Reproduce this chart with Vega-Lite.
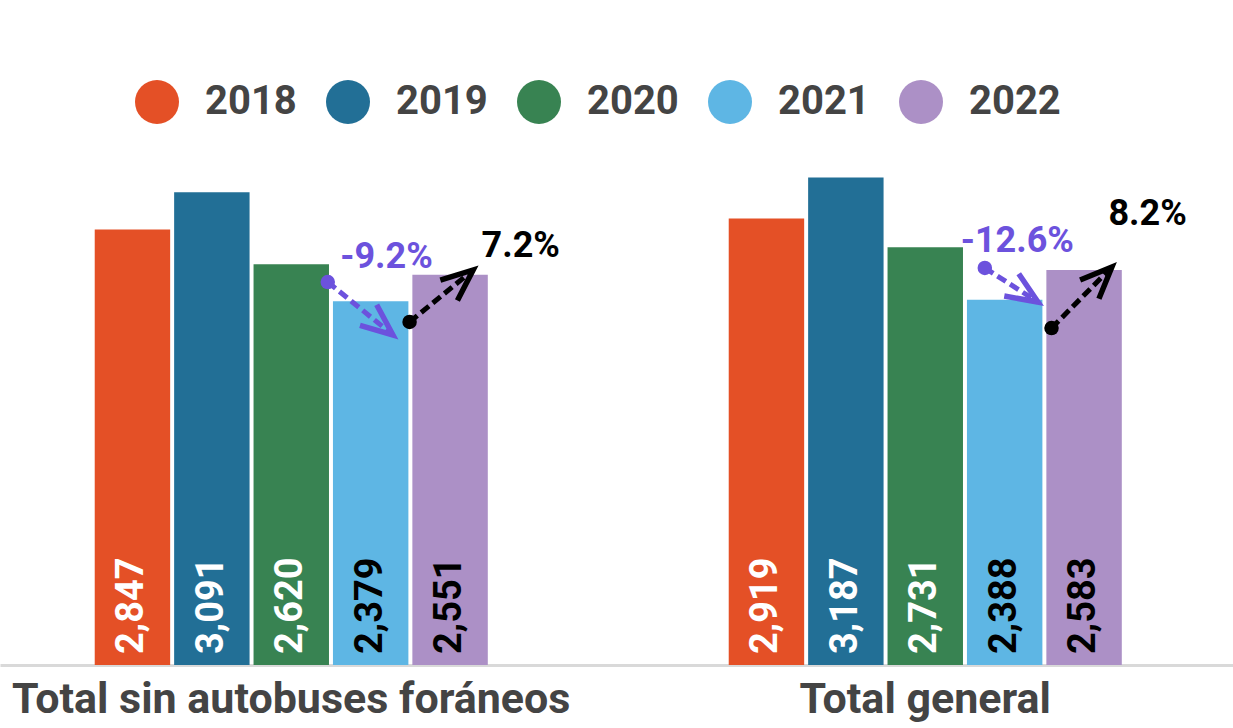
{
  "$schema": "https://vega.github.io/schema/vega-lite/v6.json",
  "width": 1233,
  "height": 520,
  "autosize": "none",
  "padding": {"left": 0, "top": 145, "right": 0, "bottom": 63},
  "background": "white",
  "config": {"view": {"stroke": null}, "font": "Roboto"},
  "datasets": {
    "bars": [
      {"group": "Total sin autobuses foráneos", "year": "2018", "v": 2847},
      {"group": "Total sin autobuses foráneos", "year": "2019", "v": 3091},
      {"group": "Total sin autobuses foráneos", "year": "2020", "v": 2620},
      {"group": "Total sin autobuses foráneos", "year": "2021", "v": 2379},
      {"group": "Total sin autobuses foráneos", "year": "2022", "v": 2551},
      {"group": "Total general", "year": "2018", "v": 2919},
      {"group": "Total general", "year": "2019", "v": 3187},
      {"group": "Total general", "year": "2020", "v": 2731},
      {"group": "Total general", "year": "2021", "v": 2388},
      {"group": "Total general", "year": "2022", "v": 2583}
    ],
    "arrows": [
      {"group": "Total sin autobuses foráneos", "kind": "down", "role": "start", "idx": 2.46, "v": 2504},
      {"group": "Total sin autobuses foráneos", "kind": "down", "role": "end", "idx": 3.28, "v": 2158},
      {"group": "Total sin autobuses foráneos", "kind": "up", "role": "start", "idx": 3.49, "v": 2243},
      {"group": "Total sin autobuses foráneos", "kind": "up", "role": "end", "idx": 4.29, "v": 2583},
      {"group": "Total general", "kind": "down", "role": "start", "idx": 2.75, "v": 2596},
      {"group": "Total general", "kind": "down", "role": "end", "idx": 3.42, "v": 2373},
      {"group": "Total general", "kind": "up", "role": "start", "idx": 3.59, "v": 2203},
      {"group": "Total general", "kind": "up", "role": "end", "idx": 4.35, "v": 2602}
    ],
    "notes": [
      {"group": "Total sin autobuses foráneos", "kind": "down", "idx": 3.2, "v": 2596, "label": "-9.2%"},
      {"group": "Total sin autobuses foráneos", "kind": "up", "idx": 4.89, "v": 2668, "label": "7.2%"},
      {"group": "Total general", "kind": "down", "idx": 3.16, "v": 2700, "label": "-12.6%"},
      {"group": "Total general", "kind": "up", "idx": 4.8, "v": 2877, "label": "8.2%"}
    ]
  },
  "encoding": {
    "x": {
      "field": "group",
      "type": "nominal",
      "sort": null,
      "scale": {
        "domain": ["Total sin autobuses foráneos", "Total general"],
        "paddingInner": 0.38,
        "paddingOuter": 0.1624,
        "align": 0.46
      },
      "axis": {
        "title": null,
        "labelFontSize": 43,
        "labelFontWeight": "bold",
        "labelFont": "Roboto",
        "labelColor": "#444444",
        "labelAngle": 0,
        "labelLimit": 1000,
        "labelPadding": 13,
        "ticks": false,
        "grid": false,
        "domainColor": "#d9d9d9",
        "domainWidth": 3
      }
    }
  },
  "layer": [
    {
      "data": {"name": "bars"},
      "layer": [
        {
          "mark": {"type": "bar"},
          "encoding": {
            "xOffset": {"field": "year", "type": "nominal", "scale": {"paddingInner": 0.05, "paddingOuter": 0}},
            "y": {"field": "v", "type": "quantitative", "stack": null, "scale": {"domain": [0, 3400]}, "axis": null},
            "color": {
              "field": "year",
              "type": "nominal",
              "scale": {
                "domain": ["2018", "2019", "2020", "2021", "2022"],
                "range": ["#e45026", "#226f96", "#388352", "#5eb6e4", "#ac90c6"]
              },
              "legend": {
                "title": null,
                "orient": "none",
                "legendX": 135,
                "legendY": -65,
                "direction": "horizontal",
                "columns": 5,
                "padding": 0,
                "symbolType": "circle",
                "symbolSize": 1936,
                "symbolStrokeWidth": 0,
                "symbolOpacity": 1,
                "labelFont": "Roboto",
                "labelFontSize": 40,
                "labelFontWeight": "bold",
                "labelColor": "#444444",
                "labelOffset": 26,
                "columnPadding": 29
              }
            }
          }
        },
        {
          "mark": {"type": "text", "angle": 270, "align": "left", "baseline": "middle", "dx": 11, "fontSize": 38, "fontWeight": "bold", "font": "Roboto"},
          "encoding": {
            "xOffset": {"field": "year", "type": "nominal", "scale": {"paddingInner": 0.05, "paddingOuter": 0}},
            "y": {"datum": 0, "type": "quantitative", "scale": {"domain": [0, 3400]}, "axis": null},
            "text": {"field": "v", "type": "quantitative", "format": ","},
            "color": {
              "condition": {"test": "datum.year === '2021' || datum.year === '2022'", "value": "#000000"},
              "value": "#ffffff"
            }
          }
        }
      ]
    },
    {
      "data": {"name": "arrows"},
      "layer": [
        {
          "mark": {"type": "line", "strokeWidth": 5, "strokeDash": [10, 5]},
          "encoding": {
            "xOffset": {"field": "idx", "type": "quantitative", "scale": {"domain": [-0.475, 4.475], "nice": false, "zero": false}},
            "y": {"field": "v", "type": "quantitative", "scale": {"domain": [0, 3400]}, "axis": null},
            "detail": [{"field": "group", "type": "nominal"}, {"field": "kind", "type": "nominal"}],
            "order": {"field": "idx", "type": "quantitative"},
            "color": {"condition": {"test": "datum.kind === 'up'", "value": "#000000"}, "value": "#6c52dd"}
          }
        },
        {
          "transform": [{"filter": "datum.role === 'start'"}],
          "mark": {"type": "point", "filled": true, "size": 210, "opacity": 1},
          "encoding": {
            "xOffset": {"field": "idx", "type": "quantitative", "scale": {"domain": [-0.475, 4.475], "nice": false, "zero": false}},
            "y": {"field": "v", "type": "quantitative", "scale": {"domain": [0, 3400]}, "axis": null},
            "color": {"condition": {"test": "datum.kind === 'up'", "value": "#000000"}, "value": "#6c52dd"}
          }
        },
        {
          "transform": [{"filter": "datum.role === 'end'"}],
          "mark": {"type": "point", "shape": "M-1,-0.42L0,0L-1,0.42", "filled": false, "size": 4000, "strokeWidth": 5.5, "strokeJoin": "miter", "opacity": 1},
          "encoding": {
            "xOffset": {"field": "idx", "type": "quantitative", "scale": {"domain": [-0.475, 4.475], "nice": false, "zero": false}},
            "y": {"field": "v", "type": "quantitative", "scale": {"domain": [0, 3400]}, "axis": null},
            "angle": {
              "condition": [
                {"test": "datum.kind === 'down' && datum.group === 'Total general'", "value": 33},
                {"test": "datum.kind === 'up' && datum.group === 'Total general'", "value": -45},
                {"test": "datum.kind === 'up'", "value": -40}
              ],
              "value": 39
            },
            "color": {"condition": {"test": "datum.kind === 'up'", "value": "#000000"}, "value": "#6c52dd"}
          }
        }
      ]
    },
    {
      "data": {"name": "notes"},
      "mark": {"type": "text", "align": "center", "baseline": "alphabetic", "fontSize": 36, "fontWeight": "bold", "font": "Roboto"},
      "encoding": {
        "xOffset": {"field": "idx", "type": "quantitative", "scale": {"domain": [-0.475, 4.475], "nice": false, "zero": false}},
        "y": {"field": "v", "type": "quantitative", "scale": {"domain": [0, 3400]}, "axis": null},
        "text": {"field": "label", "type": "nominal"},
        "color": {"condition": {"test": "datum.kind === 'up'", "value": "#000000"}, "value": "#6c52dd"}
      }
    }
  ],
  "resolve": {"scale": {"xOffset": "independent"}}
}
